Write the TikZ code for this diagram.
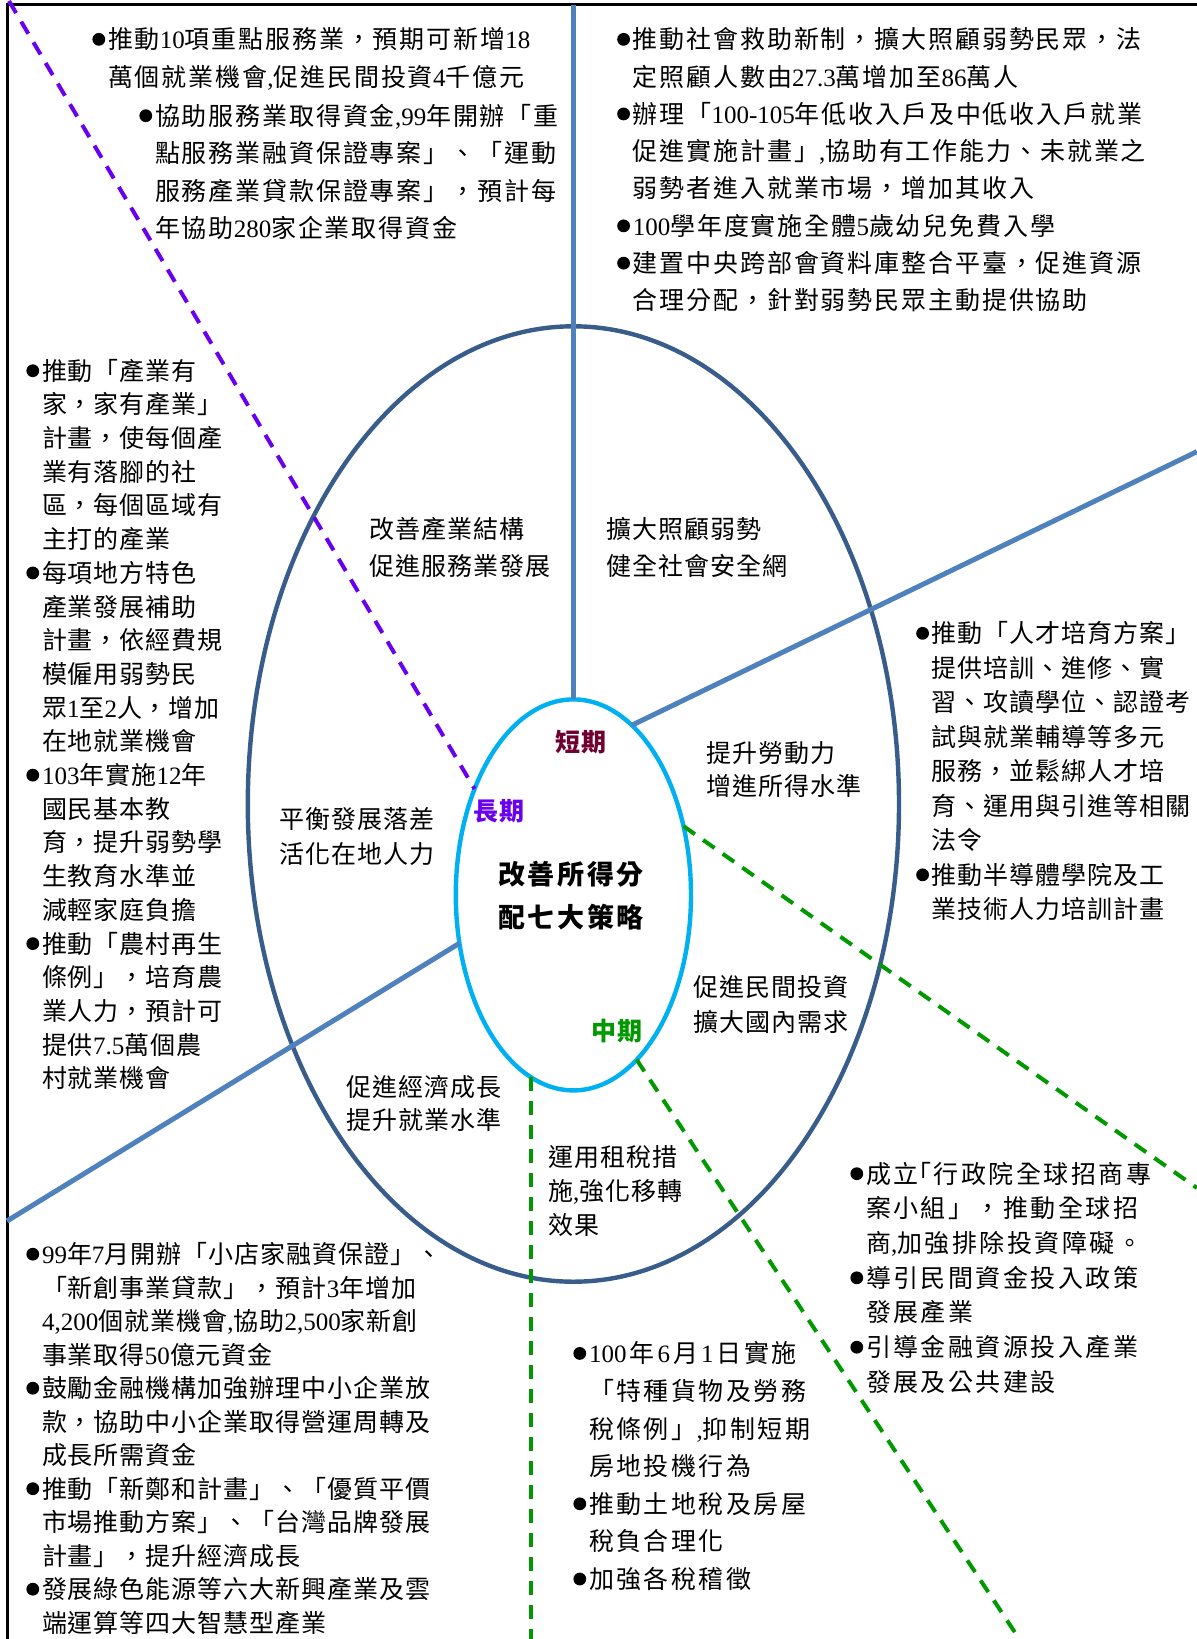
\documentclass[tikz,border=0pt]{standalone}
\usepackage{fontspec}
\setmainfont{Noto Sans CJK TC}[LetterSpace=4]
\newfontfamily\widecjk{Noto Sans CJK TC}[LetterSpace=10]
\newfontfamily\midcjk{Noto Sans CJK TC}[LetterSpace=7.5]
\newfontfamily\latinfont{Liberation Serif}
\usetikzlibrary{shapes.geometric}
\definecolor{lineblue}{RGB}{79,129,189}
\definecolor{ringblue}{RGB}{56,93,138}
\definecolor{corecyan}{RGB}{0,176,240}
\definecolor{violetd}{RGB}{106,0,240}
\definecolor{greend}{RGB}{0,153,0}
\definecolor{shortred}{RGB}{112,0,48}
\newcommand\LN[1]{{\latinfont #1}}
\newcommand\bul{\makebox[7.8pt][l]{\raisebox{1.5pt}{\tikz\fill (0pt,0pt) circle[radius=3.2pt];}}}
\newcommand\ind{\hspace*{7.8pt}}
\tikzset{
  txt/.style={anchor=north west, inner sep=0pt, align=left, font=\fontsize{12.5}{#1}\selectfont},
  wtxt/.style={anchor=north west, inner sep=0pt, align=left, font=\widecjk\fontsize{12.5}{#1}\selectfont},
  mtxt/.style={anchor=north west, inner sep=0pt, align=left, font=\midcjk\fontsize{12.5}{#1}\selectfont},
  blueline/.style={draw=lineblue, line width=2.5pt},
  violetdash/.style={draw=violetd, line width=2pt, dash pattern=on 7pt off 5pt},
  greendash/.style={draw=greend, line width=2pt, dash pattern=on 7pt off 5pt},
  term/.style={anchor=center, inner sep=0pt, font=\fontsize{12.5}{15}\selectfont\bfseries}
}
\begin{document}
\begin{tikzpicture}[x=0.5pt,y=-0.5pt]
\useasboundingbox (0,0) rectangle (1197,1639);
% frame
\draw[black, line width=1.5pt] (1197,4.5) -- (7,4.5) -- (7,1639);
% ellipses
\node[ellipse, draw=ringblue, line width=2.2pt, minimum width=325.6pt, minimum height=477.7pt, inner sep=0pt, outer sep=0pt] (ring) at (573.4,804) {};
\node[ellipse, draw=corecyan, line width=2.2pt, minimum width=117.6pt, minimum height=195.5pt, inner sep=0pt, outer sep=0pt] (core) at (573.4,894.9) {};
% connectors
\coordinate (topV) at (573.4,4.5);
\coordinate (neEnd) at (1197,451.6);
\coordinate (swEnd) at (7,1221);
\coordinate (vStart) at (9,1);
\coordinate (gNE) at (1197,1188);
\coordinate (gSE) at (1019.3,1639);
\coordinate (gS) at (534,1639);
\draw[blueline] (topV) -- (core.north);
\draw[blueline] (core.71.8) -- (neEnd);
\draw[blueline] (core.203.8) -- (swEnd);
\draw[violetdash] (vStart) -- (core.133.7);
\draw[greendash] (core.32) -- (gNE);
\draw[greendash] (core.291.2) -- (gSE);
\draw[greendash] (core.257.9) -- (core.257.9 |- gS);
% ellipse labels
\node[txt=18.8pt] (l1) at (369,516.5) {改善產業結構\\促進服務業發展};
\node[txt=18.8pt] (l2) at (606,516.5) {擴大照顧弱勢\\健全社會安全網};
\node[txt=16.75pt] (l3) at (705.6,741) {提升勞動力\\增進所得水準};
\node[txt=17.75pt] (l4) at (279,807) {平衡發展落差\\活化在地人力};
\node[txt=17.25pt] (l5) at (693,975.5) {促進民間投資\\擴大國內需求};
\node[txt=16.75pt] (l6) at (346,1074.5) {促進經濟成長\\提升就業水準};
\node[txt=17pt] (l7) at (547.8,1145.5) {運用租稅措\\施\LN{,}強化移轉\\效果};
% terms
\node[term, text=shortred] (tshort) at (581,742) {短期};
\node[term, text=violetd] (tlong) at (498.6,811) {長期};
\node[term, text=greend] (tmid) at (616.8,1030.8) {中期};
\node[anchor=center, inner sep=0pt, align=center, font=\widecjk\fontsize{13.5}{21.45}\selectfont\bfseries] (title) at (571,895.5) {改善所得分\\配七大策略};
% text blocks
\node[mtxt=18.8pt] (a1) at (92,27.2) {\bul 推動\LN{10}項重點服務業，預期可新增\LN{18}\\
\ind 萬個就業機會\LN{,}促進民間投資\LN{4}千億元};
\node[mtxt=18.8pt] (a2) at (139,103.5) {\bul 協助服務業取得資金\LN{,99}年開辦「重\\
\ind 點服務業融資保證專案」、「運動\\
\ind 服務產業貸款保證專案」，預計每\\
\ind 年協助\LN{280}家企業取得資金};
\node[mtxt=18.65pt] (b) at (616.8,27.2) {\bul 推動社會救助新制，擴大照顧弱勢民眾，法\\
\ind 定照顧人數由\LN{27.3}萬增加至\LN{86}萬人\\
\bul 辦理「\LN{100-105}年低收入戶及中低收入戶就業\\
\ind 促進實施計畫」\LN{,}協助有工作能力、未就業之\\
\ind 弱勢者進入就業市場，增加其收入\\
\bul \LN{100}學年度實施全體\LN{5}歲幼兒免費入學\\
\bul 建置中央跨部會資料庫整合平臺，促進資源\\
\ind 合理分配，針對弱勢民眾主動提供協助};
\node[txt=16.85pt] (c) at (26,358.5) {\bul 推動「產業有\\
\ind 家，家有產業」\\
\ind 計畫，使每個產\\
\ind 業有落腳的社\\
\ind 區，每個區域有\\
\ind 主打的產業\\
\bul 每項地方特色\\
\ind 產業發展補助\\
\ind 計畫，依經費規\\
\ind 模僱用弱勢民\\
\ind 眾\LN{1}至\LN{2}人，增加\\
\ind 在地就業機會\\
\bul \LN{103}年實施\LN{12}年\\
\ind 國民基本教\\
\ind 育，提升弱勢學\\
\ind 生教育水準並\\
\ind 減輕家庭負擔\\
\bul 推動「農村再生\\
\ind 條例」，培育農\\
\ind 業人力，預計可\\
\ind 提供\LN{7.5}萬個農\\
\ind 村就業機會};
\node[txt=17.25pt] (d) at (915.8,621) {\bul 推動「人才培育方案」\\
\ind 提供培訓、進修、實\\
\ind 習、攻讀學位、認證考\\
\ind 試與就業輔導等多元\\
\ind 服務，並鬆綁人才培\\
\ind 育、運用與引進等相關\\
\ind 法令\\
\bul 推動半導體學院及工\\
\ind 業技術人力培訓計畫};
\node[txt=16.75pt] (e) at (26,1242) {\bul \LN{99}年\LN{7}月開辦「小店家融資保證」、\\
\ind 「新創事業貸款」，預計\LN{3}年增加\\
\ind \LN{4,200}個就業機會\LN{,}協助\LN{2,500}家新創\\
\ind 事業取得\LN{50}億元資金\\
\bul 鼓勵金融機構加強辦理中小企業放\\
\ind 款，協助中小企業取得營運周轉及\\
\ind 成長所需資金\\
\bul 推動「新鄭和計畫」、「優質平價\\
\ind 市場推動方案」、「台灣品牌發展\\
\ind 計畫」，提升經濟成長\\
\bul 發展綠色能源等六大新興產業及雲\\
\ind 端運算等四大智慧型產業};
\node[wtxt=18.8pt] (f) at (573,1341.2) {\bul \LN{100}\hspace{1.5pt}年\hspace{1.5pt}\LN{6}\hspace{1.5pt}月\hspace{1.5pt}\LN{1}\hspace{1.5pt}日\hspace{1.5pt}實施\\
\ind 「特種貨物及勞務\\
\ind 稅條例」\LN{,}抑制短期\\
\ind 房地投機行為\\
\bul 推動土地稅及房屋\\
\ind 稅負合理化\\
\bul 加強各稅稽徵};
\node[wtxt=17.35pt] (g) at (850,1161.5) {\bul 成立\kern-6pt「行政院全球招商專\\
\ind 案小組」，推動全球招\\
\ind 商\LN{,}加強排除投資障礙。\\
\bul 導引民間資金投入政策\\
\ind 發展產業\\
\bul 引導金融資源投入產業\\
\ind 發展及公共建設};
\end{tikzpicture}
\end{document}
